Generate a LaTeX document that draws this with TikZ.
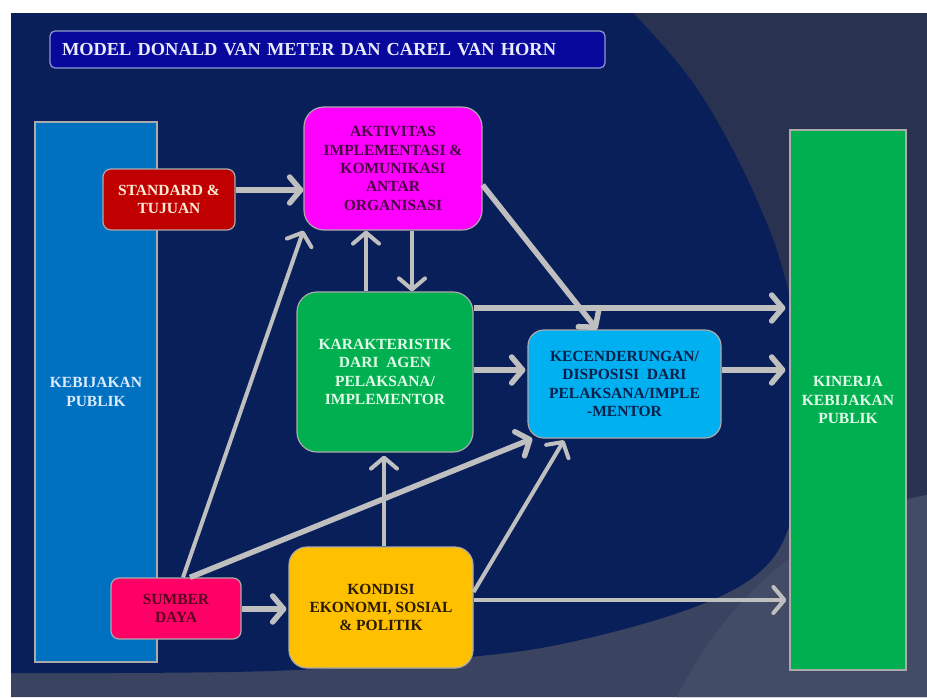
\documentclass[tikz,border=0pt]{standalone}
\usepackage{fontspec}
\setmainfont{Liberation Serif}
\usetikzlibrary{arrows.meta}
\definecolor{slatedark}{HTML}{293251}
\definecolor{slatemid}{HTML}{3A435F}
\definecolor{slatelight}{HTML}{434C67}
\definecolor{navybg}{HTML}{081F5A}
\definecolor{titlefill}{HTML}{08089C}
\definecolor{titleedge}{HTML}{8F9BD0}
\definecolor{titletext}{HTML}{EAEAFF}
\definecolor{edgegrey}{HTML}{ABABAB}
\definecolor{arrgrey}{HTML}{BFBFBF}
\definecolor{cblue}{HTML}{0070C0}
\definecolor{cred}{HTML}{C00000}
\definecolor{cmag}{HTML}{FF00FF}
\definecolor{cgreen}{HTML}{00B050}
\definecolor{ccyan}{HTML}{00B0F0}
\definecolor{cpink}{HTML}{FF0066}
\definecolor{cyellow}{HTML}{FFC000}
\definecolor{tlightblue}{HTML}{DCEBFF}
\definecolor{tcream}{HTML}{FFEBD6}
\definecolor{tpurple}{HTML}{4B0045}
\definecolor{tmint}{HTML}{E2FBE8}
\definecolor{tnavy}{HTML}{08204A}
\definecolor{tmaroon}{HTML}{5A0020}
\definecolor{tbrown}{HTML}{2A1A00}
\begin{document}
\begin{tikzpicture}[x=1pt,y=-1pt,
  bx/.style={draw=edgegrey,line width=1.2pt,align=center,inner sep=0pt,
    font=\fontsize{15.5}{18.3}\selectfont\bfseries},
  titlebox/.style={draw=titleedge,fill=titlefill,rounded corners=5pt,line width=1.2pt,
    text=titletext,font=\fontsize{18.4}{22}\selectfont\bfseries,text width=531pt,inner xsep=12pt,
    inner ysep=0pt,minimum height=37pt,align=left},
  thick arrow/.style={draw=arrgrey,line width=5.5pt,-{Straight Barb[length=11pt,width=26pt,round]}},
  thin arrow/.style={draw=arrgrey,line width=4pt,-{Straight Barb[length=11pt,width=26pt,round]}}
]
\useasboundingbox (0,0) rectangle (927,697);
% background
\fill[white] (0,0) rectangle (927,697);
\fill[slatedark] (11,13) rectangle (927,697);
\fill[slatemid] (11,697) -- (11,600) -- (790,520) -- (927,495) -- (927,697) -- cycle;
\fill[slatelight] (927,495) .. controls (840,515) and (740,570) .. (677,697) -- (927,697) -- cycle;
\fill[navybg] (11,13) -- plot[smooth,tension=0.6] coordinates {(633,13) (667,50) (700,93) (733,150) (760,207) (780,260) (796,330) (803,420) (795,505) (767,565) (700,605) (580,640) (470,657) (270,671) (11,673)} -- cycle;

% title
\node[titlebox] (title) at (327.5,49.5) {MODEL DONALD VAN METER DAN CAREL VAN HORN};

% boxes
\node[bx,fill=cblue,text=tlightblue,minimum width=122pt,minimum height=540pt] (keb) at (96,392) {KEBIJAKAN\\PUBLIK};
\node[bx,fill=cgreen,text=tmint,minimum width=116pt,minimum height=540pt] (kin) at (848,400) {KINERJA\\KEBIJAKAN\\PUBLIK};
\node[bx,fill=cred,text=tcream,rounded corners=8pt,minimum width=132pt,minimum height=61pt] (std) at (169,199.5) {STANDARD \&\\TUJUAN};
\node[bx,fill=cmag,text=tpurple,rounded corners=20pt,minimum width=178pt,minimum height=123pt] (akt) at (393,168.5) {AKTIVITAS\\IMPLEMENTASI \&\\KOMUNIKASI\\ANTAR\\ORGANISASI};
\node[bx,fill=cgreen,text=tmint,rounded corners=20pt,minimum width=176pt,minimum height=160pt] (kar) at (385,372) {KARAKTERISTIK\\DARI~ AGEN\\PELAKSANA/\\IMPLEMENTOR};
\node[bx,fill=ccyan,text=tnavy,rounded corners=16pt,minimum width=193pt,minimum height=108pt] (kec) at (624.5,384) {KECENDERUNGAN/\\DISPOSISI~ DARI\\PELAKSANA/IMPLE\\-MENTOR};
\node[bx,fill=cpink,text=tmaroon,rounded corners=8pt,minimum width=130pt,minimum height=61pt] (sum) at (176,608.5) {SUMBER\\DAYA};
\node[bx,fill=cyellow,text=tbrown,rounded corners=18pt,minimum width=184pt,minimum height=121pt] (kon) at (381,607.5) {KONDISI\\EKONOMI, SOSIAL\\\& POLITIK};

% connectors
\draw[thick arrow] (std.east |- 0,190) -- (akt.west |- 0,190);
\draw[thin arrow] (akt.south -| 412,0) -- (kar.north -| 412,0);
\draw[thin arrow] (kar.north -| 366,0) -- (akt.south -| 366,0);
\draw[thick arrow] (akt.east |- 0,185) -- (kec.north -| 597,0);
\draw[thick arrow,shorten >=4pt] (kar.east |- 0,308) -- (kin.west |- 0,308);
\draw[thick arrow,shorten >=2pt] (kar.east |- 0,370) -- (kec.west |- 0,370);
\draw[thick arrow,shorten >=4pt] (kec.east |- 0,370) -- (kin.west |- 0,370);
\draw[thin arrow] (sum.north -| 183,0) -- (akt.south west);
\draw[thick arrow] (sum.north -| 190,0) -- ([xshift=5pt]kec.south west);
\draw[thick arrow,shorten >=2pt] (sum.east |- 0,609) -- (kon.west |- 0,609);
\draw[thin arrow,shorten >=3pt] (kon.north -| 384,0) -- (kar.south -| 384,0);
\draw[thin arrow,shorten >=2pt] (kon.east |- 0,592) -- (kec.south -| 565,0);
\draw[thin arrow,shorten >=3pt] (kon.east |- 0,600) -- (kin.west |- 0,600);
\end{tikzpicture}
\end{document}
